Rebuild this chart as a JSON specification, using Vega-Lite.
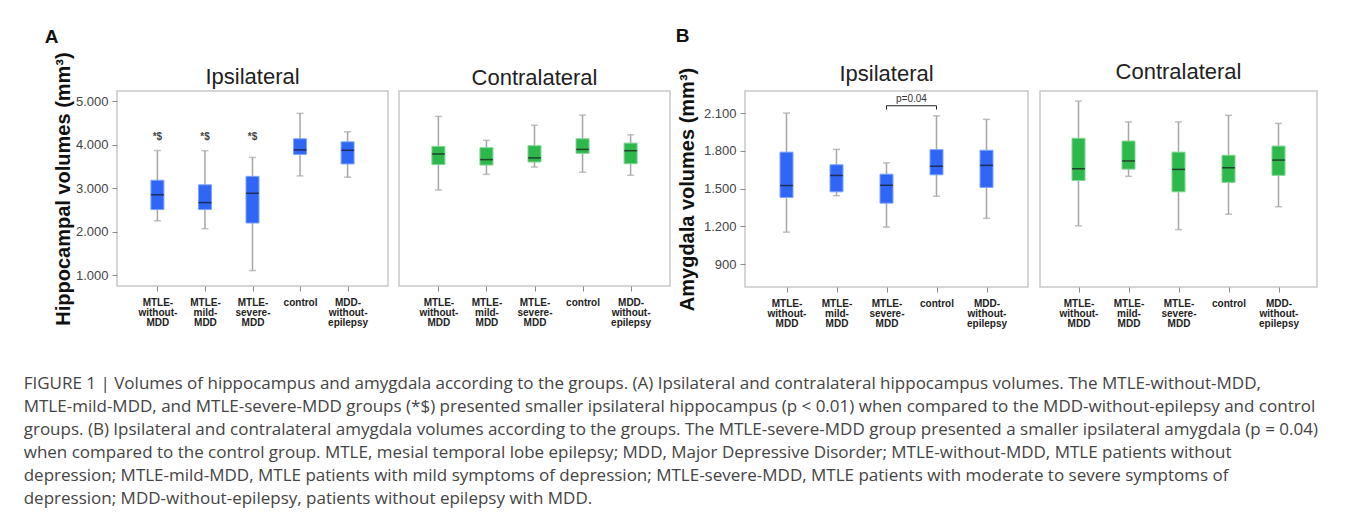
{
  "$schema": "https://vega.github.io/schema/vega-lite/v6.json",
  "background": "white",
  "padding": {"left": 23, "top": 27, "right": 10, "bottom": 8},
  "autosize": {"type": "pad"},
  "data": {"values": [
    {"panel": "A-ipsi", "grp": "MTLE-without-MDD", "lo": 2250, "q1": 2510, "med": 2850, "q3": 3185, "hi": 3870},
    {"panel": "A-ipsi", "grp": "MTLE-mild-MDD", "lo": 2070, "q1": 2510, "med": 2670, "q3": 3080, "hi": 3865},
    {"panel": "A-ipsi", "grp": "MTLE-severe-MDD", "lo": 1105, "q1": 2200, "med": 2885, "q3": 3275, "hi": 3710},
    {"panel": "A-ipsi", "grp": "control", "lo": 3285, "q1": 3780, "med": 3885, "q3": 4140, "hi": 4725},
    {"panel": "A-ipsi", "grp": "MDD-without-epilepsy", "lo": 3255, "q1": 3560, "med": 3875, "q3": 4070, "hi": 4300},
    {"panel": "A-contra", "grp": "MTLE-without-MDD", "lo": 2960, "q1": 3545, "med": 3790, "q3": 3965, "hi": 4655},
    {"panel": "A-contra", "grp": "MTLE-mild-MDD", "lo": 3320, "q1": 3535, "med": 3660, "q3": 3935, "hi": 4105},
    {"panel": "A-contra", "grp": "MTLE-severe-MDD", "lo": 3490, "q1": 3605, "med": 3700, "q3": 3980, "hi": 4450},
    {"panel": "A-contra", "grp": "control", "lo": 3370, "q1": 3805, "med": 3895, "q3": 4140, "hi": 4685},
    {"panel": "A-contra", "grp": "MDD-without-epilepsy", "lo": 3300, "q1": 3565, "med": 3865, "q3": 4040, "hi": 4230},
    {"panel": "B-ipsi", "grp": "MTLE-without-MDD", "lo": 1155, "q1": 1430, "med": 1525, "q3": 1790, "hi": 2100},
    {"panel": "B-ipsi", "grp": "MTLE-mild-MDD", "lo": 1445, "q1": 1475, "med": 1605, "q3": 1690, "hi": 1812},
    {"panel": "B-ipsi", "grp": "MTLE-severe-MDD", "lo": 1195, "q1": 1385, "med": 1527, "q3": 1615, "hi": 1705},
    {"panel": "B-ipsi", "grp": "control", "lo": 1440, "q1": 1610, "med": 1678, "q3": 1810, "hi": 2078},
    {"panel": "B-ipsi", "grp": "MDD-without-epilepsy", "lo": 1265, "q1": 1510, "med": 1685, "q3": 1805, "hi": 2050},
    {"panel": "B-contra", "grp": "MTLE-without-MDD", "lo": 1205, "q1": 1565, "med": 1658, "q3": 1900, "hi": 2195},
    {"panel": "B-contra", "grp": "MTLE-mild-MDD", "lo": 1598, "q1": 1655, "med": 1720, "q3": 1878, "hi": 2030},
    {"panel": "B-contra", "grp": "MTLE-severe-MDD", "lo": 1175, "q1": 1475, "med": 1653, "q3": 1790, "hi": 2030},
    {"panel": "B-contra", "grp": "control", "lo": 1297, "q1": 1550, "med": 1666, "q3": 1765, "hi": 2082},
    {"panel": "B-contra", "grp": "MDD-without-epilepsy", "lo": 1357, "q1": 1606, "med": 1727, "q3": 1838, "hi": 2018}
  ]},
  "title": {
    "text": [
      "FIGURE 1 | Volumes of hippocampus and amygdala according to the groups. (A) Ipsilateral and contralateral hippocampus volumes. The MTLE-without-MDD,",
      "MTLE-mild-MDD, and MTLE-severe-MDD groups (*$) presented smaller ipsilateral hippocampus (p < 0.01) when compared to the MDD-without-epilepsy and control",
      "groups. (B) Ipsilateral and contralateral amygdala volumes according to the groups. The MTLE-severe-MDD group presented a smaller ipsilateral amygdala (p = 0.04)",
      "when compared to the control group. MTLE, mesial temporal lobe epilepsy; MDD, Major Depressive Disorder; MTLE-without-MDD, MTLE patients without",
      "depression; MTLE-mild-MDD, MTLE patients with mild symptoms of depression; MTLE-severe-MDD, MTLE patients with moderate to severe symptoms of",
      "depression; MDD-without-epilepsy, patients without epilepsy with MDD."
    ],
    "orient": "bottom",
    "anchor": "start",
    "frame": "bounds",
    "dx": -21,
    "offset": 47,
    "font": "Open Sans",
    "fontSize": 17,
    "fontWeight": "normal",
    "color": "#444444",
    "lineHeight": 23
  },
  "spacing": 4,
  "hconcat": [
    {
      "title": {"text": "A", "anchor": "start", "frame": "bounds", "dx": -8, "fontSize": 19, "fontWeight": "bold", "color": "#111", "offset": 4},
      "spacing": 9,
      "hconcat": [
        {
          "width": 271, "height": 195,
          "title": {"text": "Ipsilateral", "fontSize": 22, "fontWeight": "normal", "color": "#222", "offset": -37},
          "transform": [{"filter": "datum.panel == 'A-ipsi'"}],
          "encoding": {
            "x": {"field": "grp", "type": "nominal", "scale": {"type": "point", "domain": ["MTLE-without-MDD", "MTLE-mild-MDD", "MTLE-severe-MDD", "control", "MDD-without-epilepsy"], "padding": 0.85},
              "axis": {"title": null, "labelAngle": 0, "labelExpr": "split(replace(datum.value, /-/g, '-|'), '|')", "labelFontSize": 10, "labelFontWeight": "bold", "labelColor": "#222", "labelLineHeight": 10, "tickSize": 5, "labelPadding": 6}}
          },
          "layer": [
            {"mark": {"type": "rule", "color": "#a6a6a6", "strokeWidth": 1.5},
              "encoding": {"y": {"field": "lo", "type": "quantitative", "scale": {"domain": [750, 5240], "nice": false, "zero": false},
                "axis": {"title": "Hippocampal volumes (mm³)", "titleFontSize": 20, "titleFontWeight": "bold", "titleColor": "#111", "values": [1000, 2000, 3000, 4000, 5000], "labelExpr": "replace(format(datum.value, ','), ',', '.')", "labelFontSize": 13, "labelColor": "#444", "tickSize": 5, "labelPadding": 4, "titlePadding": 2}},
                "y2": {"field": "hi"}}},
            {"mark": {"type": "tick", "color": "#a6a6a6", "size": 7, "thickness": 1.5}, "encoding": {"y": {"field": "hi", "type": "quantitative"}}},
            {"mark": {"type": "tick", "color": "#a6a6a6", "size": 7, "thickness": 1.5}, "encoding": {"y": {"field": "lo", "type": "quantitative"}}},
            {"mark": {"type": "bar", "size": 13, "color": "#2f66f5", "stroke": "#7ea4ff", "strokeWidth": 1}, "encoding": {"y": {"field": "q1", "type": "quantitative"}, "y2": {"field": "q3"}}},
            {"mark": {"type": "tick", "color": "#15161c", "size": 13, "thickness": 1.5}, "encoding": {"y": {"field": "med", "type": "quantitative"}}},
            {"data": {"values": [{"grp": "MTLE-without-MDD", "y": 4170, "t": "*$"}, {"grp": "MTLE-mild-MDD", "y": 4170, "t": "*$"}, {"grp": "MTLE-severe-MDD", "y": 4170, "t": "*$"}]},
              "mark": {"type": "text", "fontSize": 10, "fontWeight": "bold", "color": "#444"},
              "encoding": {"y": {"field": "y", "type": "quantitative"}, "text": {"field": "t"}}}
          ]
        },
        {
          "width": 271, "height": 195,
          "title": {"text": "Contralateral", "fontSize": 22, "fontWeight": "normal", "color": "#222", "offset": 1},
          "transform": [{"filter": "datum.panel == 'A-contra'"}],
          "encoding": {
            "x": {"field": "grp", "type": "nominal", "scale": {"type": "point", "domain": ["MTLE-without-MDD", "MTLE-mild-MDD", "MTLE-severe-MDD", "control", "MDD-without-epilepsy"], "padding": 0.82},
              "axis": {"title": null, "labelAngle": 0, "labelExpr": "split(replace(datum.value, /-/g, '-|'), '|')", "labelFontSize": 10, "labelFontWeight": "bold", "labelColor": "#222", "labelLineHeight": 10, "tickSize": 5, "labelPadding": 6}}
          },
          "layer": [
            {"mark": {"type": "rule", "color": "#a6a6a6", "strokeWidth": 1.5},
              "encoding": {"y": {"field": "lo", "type": "quantitative", "scale": {"domain": [750, 5240], "nice": false, "zero": false}, "axis": null}, "y2": {"field": "hi"}}},
            {"mark": {"type": "tick", "color": "#a6a6a6", "size": 7, "thickness": 1.5}, "encoding": {"y": {"field": "hi", "type": "quantitative"}}},
            {"mark": {"type": "tick", "color": "#a6a6a6", "size": 7, "thickness": 1.5}, "encoding": {"y": {"field": "lo", "type": "quantitative"}}},
            {"mark": {"type": "bar", "size": 13, "color": "#2db84c", "stroke": "#80d690", "strokeWidth": 1}, "encoding": {"y": {"field": "q1", "type": "quantitative"}, "y2": {"field": "q3"}}},
            {"mark": {"type": "tick", "color": "#15161c", "size": 13, "thickness": 1.5}, "encoding": {"y": {"field": "med", "type": "quantitative"}}}
          ]
        }
      ]
    },
    {
      "title": {"text": "B", "anchor": "start", "frame": "bounds", "dx": -1, "fontSize": 19, "fontWeight": "bold", "color": "#111", "offset": 14},
      "spacing": 10,
      "hconcat": [
        {
          "width": 283, "height": 196,
          "title": {"text": "Ipsilateral", "fontSize": 22, "fontWeight": "normal", "color": "#222", "offset": -19},
          "transform": [{"filter": "datum.panel == 'B-ipsi'"}],
          "encoding": {
            "x": {"field": "grp", "type": "nominal", "scale": {"type": "point", "domain": ["MTLE-without-MDD", "MTLE-mild-MDD", "MTLE-severe-MDD", "control", "MDD-without-epilepsy"], "padding": 0.83},
              "axis": {"title": null, "labelAngle": 0, "labelExpr": "split(replace(datum.value, /-/g, '-|'), '|')", "labelFontSize": 10, "labelFontWeight": "bold", "labelColor": "#222", "labelLineHeight": 10, "tickSize": 5, "labelPadding": 6}}
          },
          "layer": [
            {"mark": {"type": "rule", "color": "#a6a6a6", "strokeWidth": 1.5},
              "encoding": {"y": {"field": "lo", "type": "quantitative", "scale": {"domain": [720, 2275], "nice": false, "zero": false},
                "axis": {"title": "Amygdala volumes (mm³)", "titleFontSize": 20, "titleFontWeight": "bold", "titleColor": "#111", "values": [900, 1200, 1500, 1800, 2100], "labelExpr": "replace(format(datum.value, ','), ',', '.')", "labelFontSize": 13, "labelColor": "#444", "tickSize": 5, "labelPadding": 4, "titlePadding": 6}},
                "y2": {"field": "hi"}}},
            {"mark": {"type": "tick", "color": "#a6a6a6", "size": 7, "thickness": 1.5}, "encoding": {"y": {"field": "hi", "type": "quantitative"}}},
            {"mark": {"type": "tick", "color": "#a6a6a6", "size": 7, "thickness": 1.5}, "encoding": {"y": {"field": "lo", "type": "quantitative"}}},
            {"mark": {"type": "bar", "size": 13, "color": "#2f66f5", "stroke": "#7ea4ff", "strokeWidth": 1}, "encoding": {"y": {"field": "q1", "type": "quantitative"}, "y2": {"field": "q3"}}},
            {"mark": {"type": "tick", "color": "#15161c", "size": 13, "thickness": 1.5}, "encoding": {"y": {"field": "med", "type": "quantitative"}}},
            {"data": {"values": [{"a": "MTLE-severe-MDD", "b": "control", "y": 2158}]},
              "mark": {"type": "rule", "color": "#222", "strokeWidth": 1},
              "encoding": {"x": {"field": "a", "type": "nominal"}, "x2": {"field": "b"}, "y": {"field": "y", "type": "quantitative"}}},
            {"data": {"values": [{"grp": "MTLE-severe-MDD", "y": 2158, "y2": 2128}, {"grp": "control", "y": 2158, "y2": 2128}]},
              "mark": {"type": "rule", "color": "#222", "strokeWidth": 1},
              "encoding": {"y": {"field": "y", "type": "quantitative"}, "y2": {"field": "y2"}}},
            {"data": {"values": [{"grp": "MTLE-severe-MDD", "y": 2215, "t": "p=0.04"}]},
              "mark": {"type": "text", "fontSize": 10, "color": "#333", "dx": 25},
              "encoding": {"y": {"field": "y", "type": "quantitative"}, "text": {"field": "t"}}}
          ]
        },
        {
          "width": 277, "height": 196,
          "title": {"text": "Contralateral", "fontSize": 22, "fontWeight": "normal", "color": "#222", "offset": 7},
          "transform": [{"filter": "datum.panel == 'B-contra'"}],
          "encoding": {
            "x": {"field": "grp", "type": "nominal", "scale": {"type": "point", "domain": ["MTLE-without-MDD", "MTLE-mild-MDD", "MTLE-severe-MDD", "control", "MDD-without-epilepsy"], "padding": 0.77},
              "axis": {"title": null, "labelAngle": 0, "labelExpr": "split(replace(datum.value, /-/g, '-|'), '|')", "labelFontSize": 10, "labelFontWeight": "bold", "labelColor": "#222", "labelLineHeight": 10, "tickSize": 5, "labelPadding": 6}}
          },
          "layer": [
            {"mark": {"type": "rule", "color": "#a6a6a6", "strokeWidth": 1.5},
              "encoding": {"y": {"field": "lo", "type": "quantitative", "scale": {"domain": [720, 2275], "nice": false, "zero": false}, "axis": null}, "y2": {"field": "hi"}}},
            {"mark": {"type": "tick", "color": "#a6a6a6", "size": 7, "thickness": 1.5}, "encoding": {"y": {"field": "hi", "type": "quantitative"}}},
            {"mark": {"type": "tick", "color": "#a6a6a6", "size": 7, "thickness": 1.5}, "encoding": {"y": {"field": "lo", "type": "quantitative"}}},
            {"mark": {"type": "bar", "size": 13, "color": "#2db84c", "stroke": "#80d690", "strokeWidth": 1}, "encoding": {"y": {"field": "q1", "type": "quantitative"}, "y2": {"field": "q3"}}},
            {"mark": {"type": "tick", "color": "#15161c", "size": 13, "thickness": 1.5}, "encoding": {"y": {"field": "med", "type": "quantitative"}}}
          ]
        }
      ]
    }
  ],
  "config": {
    "font": "Liberation Sans",
    "view": {"stroke": "#c8c8c8", "strokeWidth": 1.5},
    "axis": {"grid": false, "domain": false, "tickColor": "#8a8a8a", "tickWidth": 1}
  }
}
